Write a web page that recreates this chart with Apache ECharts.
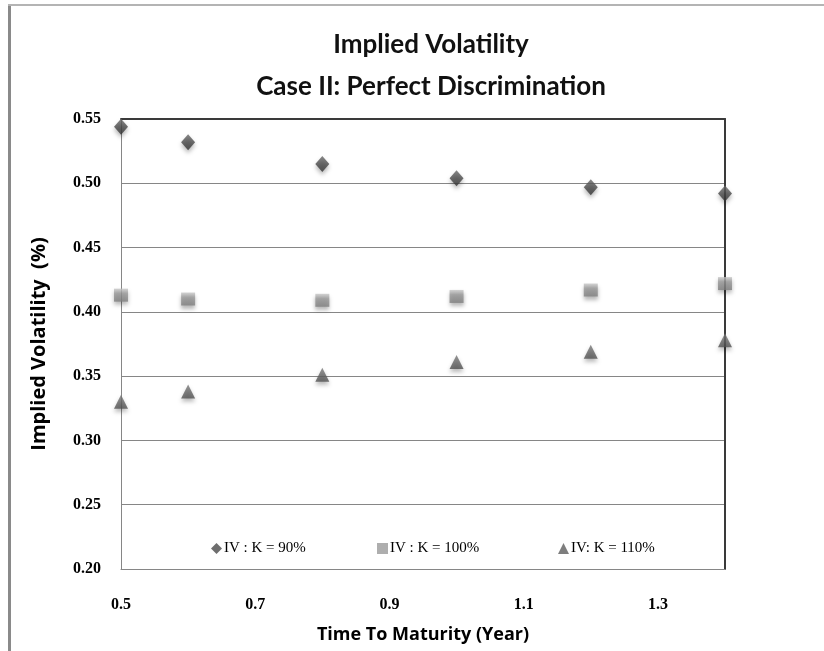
<!DOCTYPE html>
<html>
<head>
<meta charset="utf-8">
<script src="https://cdn.jsdelivr.net/npm/echarts@6/dist/echarts.min.js"></script>
<style>
  html, body { margin: 0; padding: 0; background: #ffffff; overflow: hidden; }
  #chart { width: 824px; height: 651px; }
</style>
</head>
<body>
<div id="chart"></div>
<script>
// Time to maturity (years) for each observation
const maturities = [0.5, 0.6, 0.8, 1.0, 1.2, 1.4];
// Implied volatility by strike level
const iv90 = [0.544, 0.532, 0.515, 0.504, 0.497, 0.492];
const iv100 = [0.413, 0.410, 0.409, 0.412, 0.417, 0.422];
const iv110 = [0.330, 0.338, 0.351, 0.361, 0.369, 0.378];
const seriesNames = ['IV : K = 90%', 'IV : K = 100%', 'IV: K = 110%'];
// Axis settings
const xTicks = { min: 0.5, max: 1.4, step: 0.2 };
const yTicks = { min: 0.20, max: 0.55, step: 0.05 };

const pairs = (ys) => maturities.map((x, i) => [x, ys[i]]);

const labelFont = { fontFamily: 'Liberation Serif', fontSize: 16, fontWeight: 'bold', color: '#000' };
const shadow = { shadowColor: 'rgba(0,0,0,0.35)', shadowBlur: 4, shadowOffsetY: 3 };

const styles = [
  { symbol: 'diamond', symbolSize: [14, 16],
    color: new echarts.graphic.LinearGradient(0, 0, 0, 1, [
      { offset: 0, color: '#6a6a6a' }, { offset: 0.5, color: '#4a4a4a' }, { offset: 1, color: '#333' }]) },
  { symbol: 'rect', symbolSize: [14, 13],
    color: new echarts.graphic.LinearGradient(0, 0, 0, 1, [
      { offset: 0, color: '#c8c8c8' }, { offset: 0.35, color: '#9a9a9a' }, { offset: 1, color: '#7e7e7e' }]) },
  { symbol: 'triangle', symbolSize: [14, 14],
    color: new echarts.graphic.LinearGradient(0, 0, 0, 1, [
      { offset: 0, color: '#7a7a7a' }, { offset: 1, color: '#505050' }]) }
];
const legendColors = ['#4a4a4a', '#9a9a9a', '#5e5e5e'];
const legendLeft = [206, 372, 553];

const dataSets = [iv90, iv100, iv110];

const chart = echarts.init(document.getElementById('chart'), null, { renderer: 'canvas' });
chart.setOption({
  backgroundColor: '#ffffff',
  animation: false,
  title: {
    text: 'Implied Volatility\nCase II: Perfect Discrimination',
    left: 426, top: 19, textAlign: 'center',
    textStyle: { fontFamily: 'Lato', fontSize: 26, fontWeight: 'bold', color: '#111', lineHeight: 42 }
  },
  graphic: [
    { type: 'rect', shape: { x: 8, y: 4, width: 3, height: 660 }, style: { fill: '#8a8a8a' }, silent: true },
    { type: 'rect', shape: { x: 8, y: 4, width: 830, height: 2 }, style: { fill: '#b4b4b4' }, silent: true }
  ],
  legend: seriesNames.map((name, i) => ({
    data: [{ name: name, icon: styles[i].symbol,
             itemStyle: { color: legendColors[i] } }],
    left: legendLeft[i], top: 536,
    itemWidth: 11, itemHeight: 11, itemGap: 0,
    textStyle: { fontFamily: 'Liberation Serif', fontSize: 15, color: '#000', padding: [0, 0, 0, -3] }
  })),
  grid: { left: 121, right: 99, top: 119, bottom: 82 },
  xAxis: [
    {
      type: 'value', min: xTicks.min, max: xTicks.max, interval: xTicks.step,
      name: 'Time To Maturity (Year)', nameLocation: 'middle', nameGap: 57,
      nameTextStyle: { fontFamily: 'Open Sans', fontSize: 18, fontWeight: 'bold', color: '#000' },
      axisLine: { show: true, lineStyle: { color: '#868686', width: 1 } },
      axisTick: { show: false },
      splitLine: { show: false },
      axisLabel: Object.assign({ margin: 28, showMaxLabel: false,
        formatter: (v) => v.toFixed(1) }, labelFont)
    },
    {
      type: 'value', position: 'top', min: xTicks.min, max: xTicks.max,
      axisLine: { show: true, lineStyle: { color: '#3a3a3a', width: 2 } },
      axisTick: { show: false }, axisLabel: { show: false }, splitLine: { show: false }
    }
  ],
  yAxis: [
    {
      type: 'value', min: yTicks.min, max: yTicks.max, interval: yTicks.step,
      name: 'Implied Volatility  (%)', nameLocation: 'middle', nameGap: 72,
      nameTextStyle: { fontFamily: 'Open Sans', fontSize: 20, fontWeight: 'bold', color: '#000' },
      axisLine: { show: true, lineStyle: { color: '#868686', width: 1 } },
      axisTick: { show: false },
      splitLine: { show: true, lineStyle: { color: '#868686', width: 1 } },
      axisLabel: Object.assign({ margin: 20, formatter: (v) => v.toFixed(2) }, labelFont)
    },
    {
      type: 'value', position: 'right', min: yTicks.min, max: yTicks.max,
      axisLine: { show: true, lineStyle: { color: '#3a3a3a', width: 2 } },
      axisTick: { show: false }, axisLabel: { show: false }, splitLine: { show: false }
    }
  ],
  series: dataSets.map((ys, i) => ({
    name: seriesNames[i],
    type: 'scatter',
    symbol: styles[i].symbol,
    symbolSize: styles[i].symbolSize,
    data: pairs(ys),
    z: 5,
    itemStyle: Object.assign({ color: styles[i].color }, shadow)
  }))
});
</script>
</body>
</html>
